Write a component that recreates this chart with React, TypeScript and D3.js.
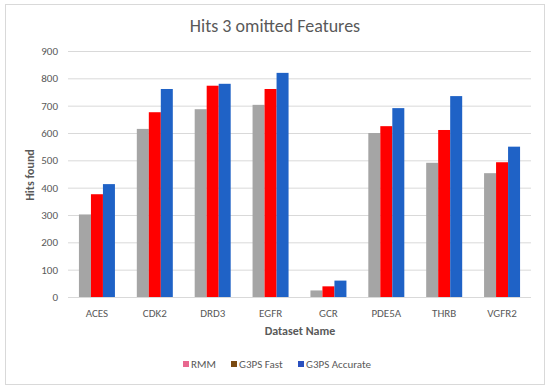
import { useEffect, useRef } from "react";
import * as d3 from "d3";

const categories = ["ACES", "CDK2", "DRD3", "EGFR", "GCR", "PDE5A", "THRB", "VGFR2"];
const seriesNames = ["RMM", "G3PS Fast", "G3PS Accurate"];
const rmm = [302, 615, 687, 703, 24, 600, 491, 453];
const g3psFast = [376, 676, 773, 761, 39, 625, 611, 493];
const g3psAccurate = [413, 761, 780, 820, 60, 691, 735, 550];
const yTicks = [0, 100, 200, 300, 400, 500, 600, 700, 800, 900];

const barColors = ["#a5a5a5", "#ff0000", "#1f62c6"];
const legendColors = ["#e8688f", "#7a4a10", "#2a50bf"];

export default function App() {
  const ref = useRef<SVGSVGElement | null>(null);

  useEffect(() => {
    if (!ref.current) return;
    const width = 550;
    const height = 388;
    const margin = { top: 51, right: 19, bottom: 91, left: 68 };
    const font = "Calibri, Lato, 'Open Sans', 'Liberation Sans', sans-serif";
    const textColor = "#595959";

    const svg = d3.select(ref.current);
    svg.selectAll("*").remove();
    svg.attr("width", width).attr("height", height);

    svg
      .append("rect")
      .attr("x", 5.5)
      .attr("y", 4.5)
      .attr("width", 539)
      .attr("height", 380)
      .attr("fill", "#fff")
      .attr("stroke", "#d9d9d9");

    svg
      .append("text")
      .attr("x", 275)
      .attr("y", 32)
      .attr("text-anchor", "middle")
      .attr("font-family", font)
      .attr("font-size", 18)
      .attr("fill", textColor)
      .text("Hits 3 omitted Features");

    const x = d3
      .scaleBand()
      .domain(categories)
      .range([margin.left, width - margin.right]);

    const y = d3
      .scaleLinear()
      .domain([0, 900])
      .range([height - margin.bottom, margin.top]);

    const x1 = d3
      .scaleBand()
      .domain(seriesNames)
      .range([0, 36]);

    // grid
    svg
      .append("g")
      .selectAll("line")
      .data(yTicks)
      .join("line")
      .attr("x1", margin.left)
      .attr("x2", width - margin.right)
      .attr("y1", (d) => y(d) + 0.5)
      .attr("y2", (d) => y(d) + 0.5)
      .attr("stroke", "#d9d9d9")
      .attr("stroke-width", 1);

    svg
      .append("g")
      .selectAll("text")
      .data(yTicks)
      .join("text")
      .attr("x", 58)
      .attr("y", (d) => y(d) + 4)
      .attr("text-anchor", "end")
      .attr("font-family", font)
      .attr("font-size", 11)
      .attr("fill", textColor)
      .text((d) => d);

    const series = [rmm, g3psFast, g3psAccurate];
    const groups = svg
      .append("g")
      .selectAll("g")
      .data(categories)
      .join("g")
      .attr("transform", (d) => `translate(${x(d)! + x.bandwidth() / 2 - 18},0)`);

    groups
      .selectAll("rect")
      .data((_, i) => series.map((s, k) => ({ name: seriesNames[k], value: s[i], k })))
      .join("rect")
      .attr("x", (d) => x1(d.name)!)
      .attr("width", x1.bandwidth())
      .attr("y", (d) => y(d.value))
      .attr("height", (d) => y(0) - y(d.value))
      .attr("fill", (d) => barColors[d.k]);

    svg
      .append("g")
      .selectAll("text")
      .data(categories)
      .join("text")
      .attr("x", (d) => x(d)! + x.bandwidth() / 2)
      .attr("y", 317)
      .attr("text-anchor", "middle")
      .attr("font-family", font)
      .attr("font-size", 11)
      .attr("fill", textColor)
      .text((d) => d);

    svg
      .append("text")
      .attr("x", 300)
      .attr("y", 335)
      .attr("text-anchor", "middle")
      .attr("font-family", font)
      .attr("font-size", 12)
      .attr("font-weight", "bold")
      .attr("fill", textColor)
      .text("Dataset Name");

    svg
      .append("text")
      .attr("transform", "translate(34,175) rotate(-90)")
      .attr("text-anchor", "middle")
      .attr("font-family", font)
      .attr("font-size", 12)
      .attr("font-weight", "bold")
      .attr("fill", textColor)
      .text("Hits found");

    const legendX = [183, 231, 298];
    const legend = svg
      .append("g")
      .selectAll("g")
      .data(seriesNames)
      .join("g")
      .attr("transform", (_, i) => `translate(${legendX[i]},365)`);
    legend
      .append("rect")
      .attr("x", 0)
      .attr("y", -4)
      .attr("width", 6)
      .attr("height", 6)
      .attr("fill", (_, i) => legendColors[i]);
    legend
      .append("text")
      .attr("x", 8)
      .attr("y", 3)
      .attr("font-family", font)
      .attr("font-size", 11)
      .attr("fill", textColor)
      .text((d) => d);
  }, []);

  return <svg ref={ref} style={{ position: "absolute", left: 0, top: 0 }} />;
}
